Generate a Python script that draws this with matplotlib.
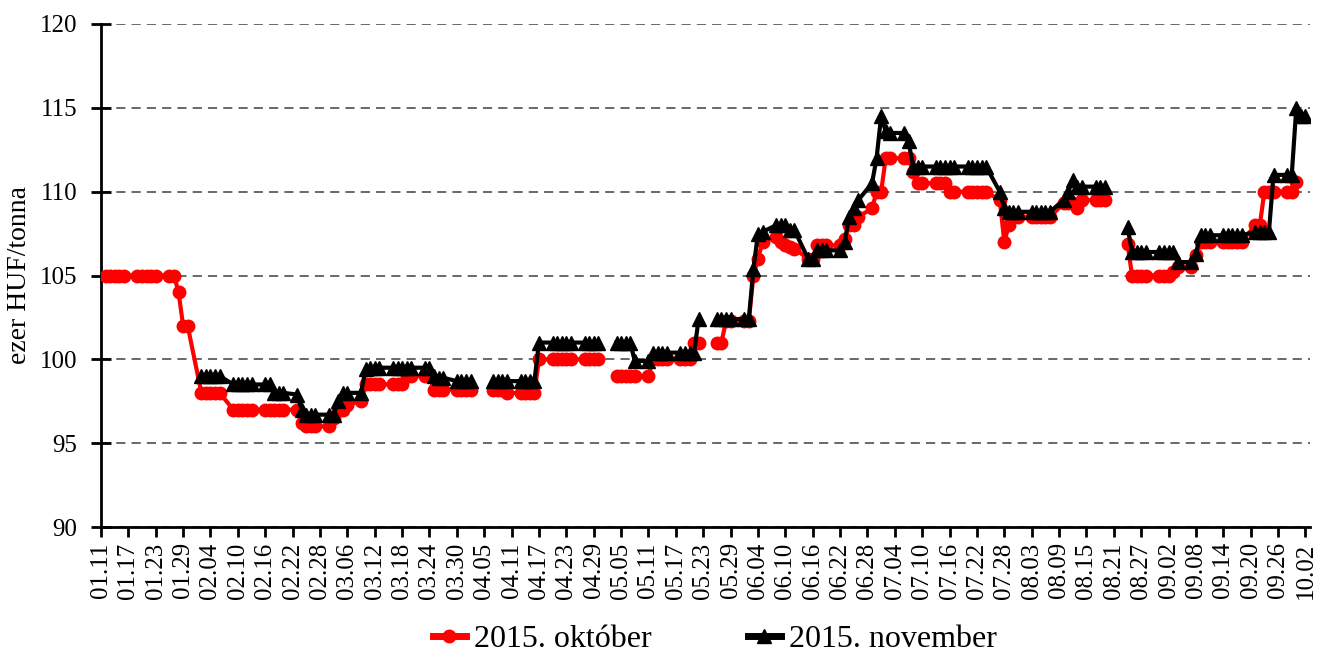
import matplotlib
matplotlib.use("Agg")
import matplotlib.pyplot as plt
import matplotlib.dates as mdates
import numpy as np
import pandas as pd

plt.rcParams['font.family'] = ['Liberation Serif', 'DejaVu Serif']

# trading days (Mon-Fri), holidays left empty (None)
days = pd.bdate_range("2015-01-12", "2015-10-02")

# 2015. október contract, one row per week (Mon..Fri)
oktober = [
    105, 105, 105, 105, 105,
    105, 105, 105, 105, 105,
    105, 105, 104, 102, 102,
    98, 98, 98, 98, 98,
    97, 97, 97, 97, 97,
    97, 97, 97, 97, 97,
    97, 96.2, 96, 96, 96,
    96, 96.5, 97, 97, 97.3,
    97.5, 98.5, 98.5, 98.5, 98.5,
    98.5, 98.5, 98.5, 99, 99,
    99, 99, 98.2, 98.2, 98.2,
    98.2, 98.2, 98.2, 98.2, None,
    None, 98.2, 98.2, 98.2, 98,
    98, 98, 98, 98, 100,
    100, 100, 100, 100, 100,
    100, 100, 100, 100, None,
    99, 99, 99, 99, 99,
    99, 100, 100, 100, 100,
    100, 100, 100, 101, 101,
    None, 101, 101, 102.3, 102.3,
    102.3, 102.3, 105, 106, 107,
    107.3, 107, 106.8, 106.7, 106.6,
    106, 106, 106.8, 106.8, 106.8,
    106.8, 107.2, 108, 108, 108.5,
    109, 110, 110, 112, 112,
    112, 112, 111.2, 110.5, 110.5,
    110.5, 110.5, 110.5, 110, 110,
    110, 110, 110, 110, 110,
    109.5, 107, 108, 108.5, 108.5,
    108.5, 108.5, 108.5, 108.5, 108.5,
    109.3, 109.3, 109.3, 109, 109.5,
    109.5, 109.5, 109.5, None, None,
    106.9, 105, 105, 105, 105,
    105, 105, 105, 105.2, 105.5,
    105.5, 106.2, 107, 107, 107,
    107, 107, 107, 107, 107,
    108, 108, 110, 110, 110,
    110, 110, 110.6, None, None,
]

# 2015. november contract
november = [
    None, None, None, None, None,
    None, None, None, None, None,
    None, None, None, None, None,
    99, 99, 99, 99, 99,
    98.5, 98.5, 98.5, 98.5, 98.5,
    98.5, 98.5, 98, 98, 98,
    97.9, 97, 96.7, 96.7, 96.7,
    96.7, 96.7, 97.5, 98, 98,
    98, 99.4, 99.5, 99.5, 99.5,
    99.5, 99.5, 99.5, 99.5, 99.5,
    99.5, 99.5, 99, 98.9, 98.9,
    98.7, 98.7, 98.7, 98.7, None,
    None, 98.7, 98.7, 98.7, 98.7,
    98.7, 98.7, 98.7, 98.7, 101,
    101, 101, 101, 101, 101,
    101, 101, 101, 101, None,
    101, 101, 101, 101, 99.9,
    99.9, 100.4, 100.4, 100.4, 100.4,
    100.4, 100.4, 100.4, 100.4, 102.4,
    None, 102.4, 102.4, 102.4, 102.4,
    102.4, 102.4, 105.4, 107.5, 107.6,
    108, 108, 108, 107.7, 107.7,
    106, 106, 106.5, 106.5, 106.5,
    106.5, 107, 108.5, 109, 109.5,
    110.5, 112, 114.5, 113.6, 113.5,
    113.5, 113, 111.5, 111.5, 111.5,
    111.5, 111.5, 111.5, 111.5, 111.5,
    111.5, 111.5, 111.5, 111.5, 111.5,
    110, 109, 108.8, 108.8, 108.8,
    108.8, 108.8, 108.8, 108.8, 108.8,
    109.5, 110, 110.7, 110.3, 110.3,
    110.3, 110.3, 110.3, None, None,
    107.9, 106.4, 106.4, 106.4, 106.4,
    106.4, 106.4, 106.4, 106.4, 105.8,
    105.8, 106.3, 107.4, 107.4, 107.4,
    107.4, 107.4, 107.4, 107.4, 107.4,
    107.6, 107.6, 107.6, 107.6, 111,
    111, 111, 115, 114.5, 114.5,
]

y_ticks = [90, 95, 100, 105, 110, 115, 120]
start = pd.Timestamp("2015-01-11")
x_ticks = pd.date_range(start, "2015-10-02", freq="6D")

okt = np.array([np.nan if v is None else v for v in oktober], dtype=float)
nov = np.array([np.nan if v is None else v for v in november], dtype=float)

fig = plt.figure(figsize=(13.19, 6.57), dpi=100)
ax = fig.add_axes([101 / 1319, 1 - 527 / 657, (1310 - 101) / 1319, (527 - 24) / 657])

ax.plot(days, okt, color='#ff0000', lw=3, marker='o', markersize=9,
        label='2015. október', zorder=3)
ax.plot(days, nov, color='black', lw=3, marker='^', markersize=10,
        label='2015. november', zorder=4)

ax.set_xlim(start, start + pd.Timedelta(days=265))
ax.set_ylim(90, 120)
ax.set_yticks(y_ticks)
ax.yaxis.grid(True, linestyle=(0, (6, 4)), color='#404040', lw=1.1)
ax.set_axisbelow(True)

ax.set_xticks(x_ticks)
ax.xaxis.set_major_formatter(mdates.DateFormatter('%m.%d'))
plt.setp(ax.get_xticklabels(), rotation=90)

for s in ['top', 'right']:
    ax.spines[s].set_visible(False)
for s in ['left', 'bottom']:
    ax.spines[s].set_linewidth(2)
ax.tick_params(axis='both', labelsize=18, width=2)
ax.tick_params(axis='y', direction='inout', length=14, pad=10)
ax.tick_params(axis='x', direction='out', length=7, pad=4)

ax.set_ylabel('ezer HUF/tonna', fontsize=20, labelpad=6)

leg = fig.legend(loc='center', bbox_to_anchor=(0.542, 0.027), ncol=2, frameon=False,
                 fontsize=23, handlelength=1.05, handletextpad=0.25, columnspacing=3.0)
for h in leg.legend_handles:
    h.set_linewidth(5)

fig.savefig('out.png', dpi=100)
